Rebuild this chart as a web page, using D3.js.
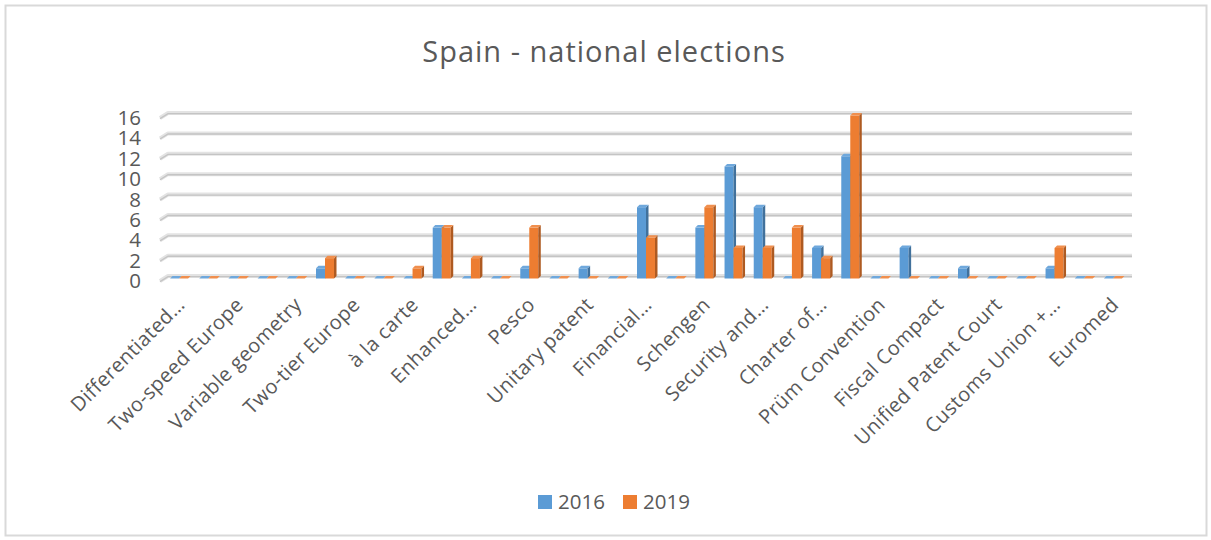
<!DOCTYPE html>
<html>
<head>
<meta charset="utf-8">
<script src="https://cdn.jsdelivr.net/npm/d3@7"></script>
<style>
  body { margin: 0; background: #fff; }
  svg { display: block; }
  text { font-family: "Open Sans", sans-serif; fill: #595959; }
</style>
</head>
<body>
<svg id="chart" width="1211" height="540"></svg>
<script>
// Category labels shown on the axis (every second category carries a label)
const tickLabels = [
  "Differentiated…", "Two-speed Europe", "Variable geometry", "Two-tier Europe",
  "à la carte", "Enhanced…", "Pesco", "Unitary patent", "Financial…", "Schengen",
  "Security and…", "Charter of…", "Prüm Convention", "Fiscal Compact",
  "Unified Patent Court", "Customs Union +…", "Euromed"
];
const seriesNames = ["2016", "2019"];
const values2016 = [0,0,0,0,0,1,0,0,0,5,0,0,1,0,1,0,7,0,5,11,7,0,3,12,0,3,0,1,0,0,1,0,0];
const values2019 = [0,0,0,0,0,2,0,0,1,5,2,0,5,0,0,0,4,0,7,3,3,5,2,16,0,0,0,0,0,0,3,0,0];
const yTicks = [0, 2, 4, 6, 8, 10, 12, 14, 16];

const seriesValues = [values2016, values2019];
const colors = [
  { front: "#5B9BD5", top: "#6FA8DC", side: "#41719C" },
  { front: "#ED7D31", top: "#F08F4E", side: "#AE5A21" }
];

const svg = d3.select("#chart");

// outer frame
svg.append("rect")
  .attr("x", 5.5).attr("y", 5.5)
  .attr("width", 1201).attr("height", 530)
  .attr("fill", "none").attr("stroke", "#d9d9d9").attr("stroke-width", 2);

// title
svg.append("text")
  .attr("x", 604).attr("y", 62)
  .attr("text-anchor", "middle")
  .style("font-size", "29px")
  .style("letter-spacing", "1px")
  .text("Spain - national elections");

const n = values2016.length;
const x = d3.scaleBand().domain(d3.range(n)).range([164.5, 1127.5]);
const y = d3.scaleLinear().domain([0, 16]).range([276, 113]);

// back-wall gridlines with the small oblique floor/wall return on the left
const wallLeft = 168, wallRight = 1132, depthX = 8, depthY = 5;
const grid = svg.append("g");
yTicks.forEach(t => {
  const yy = y(t);
  grid.append("path")
    .attr("d", `M${wallLeft - depthX},${yy + depthY} L${wallLeft},${yy} L${wallRight},${yy}`)
    .attr("fill", "none").attr("stroke", "#e3e3e3").attr("stroke-width", 4)
    .attr("stroke-linejoin", "round");
  grid.append("path")
    .attr("d", `M${wallLeft - depthX},${yy + depthY + 0.6} L${wallLeft},${yy + 0.6} L${wallRight},${yy + 0.6}`)
    .attr("fill", "none").attr("stroke", "#c4c4c4").attr("stroke-width", 1.3);
});

// y tick labels
const yAxis = d3.axisLeft(y).tickValues(yTicks).tickSize(0).tickPadding(0);
const yg = svg.append("g").attr("transform", "translate(141,5)").call(yAxis);
yg.select(".domain").remove();
yg.selectAll("text")
  .style("font-size", "20.5px")
  .style("font-family", "'Open Sans', sans-serif")
  .attr("fill", "#595959");

// 3D columns: front face, top face and right side face
const bw = 9, d = 2.5, lift = 2.5;
const yb = v => y(v) + lift;
const bars = svg.append("g");
d3.range(n).forEach(i => {
  seriesValues.forEach((vals, s) => {
    const v = vals[i];
    const x0 = x(i) + x.bandwidth() / 2 - bw + s * bw;
    const x1 = x0 + bw;
    const yt = yb(v), y0 = yb(0);
    const c = colors[s];
    bars.append("rect")
      .attr("x", x0).attr("y", yt)
      .attr("width", bw).attr("height", y0 - yt)
      .attr("fill", c.front);
    bars.append("polygon")
      .attr("points", `${x1},${yt} ${x1 + d},${yt - d} ${x1 + d},${y0 - d} ${x1},${y0}`)
      .attr("fill", c.side);
    bars.append("polygon")
      .attr("points", `${x0},${yt} ${x1},${yt} ${x1 + d},${yt - d} ${x0 + d},${yt - d}`)
      .attr("fill", c.top);
  });
});

// rotated category labels
const labelled = d3.range(0, n, 2);
const xl = svg.append("g");
labelled.forEach((i, k) => {
  xl.append("text")
    .attr("transform", `translate(${x(i) + x.bandwidth() / 2 + 7},306) rotate(-45)`)
    .attr("text-anchor", "end")
    .style("font-size", "20px")
    .style("letter-spacing", "0.4px")
    .text(tickLabels[k]);
});

// legend
const legend = svg.append("g");
const legendX = [538, 623];
seriesNames.forEach((name, s) => {
  legend.append("rect")
    .attr("x", legendX[s]).attr("y", 495)
    .attr("width", 14).attr("height", 14)
    .attr("fill", colors[s].front);
  legend.append("text")
    .attr("x", legendX[s] + 20).attr("y", 509)
    .style("font-size", "20.5px")
    .text(name);
});
</script>
</body>
</html>
